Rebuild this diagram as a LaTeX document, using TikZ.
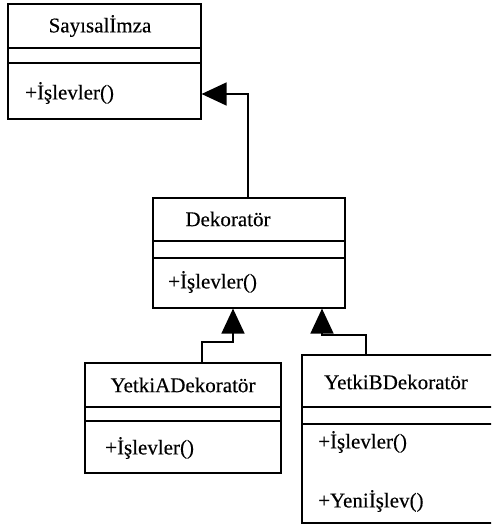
\documentclass[tikz,border=0pt]{standalone}
\usepackage{fontspec}
\setmainfont{Liberation Serif}
\newfontfamily\umlfont{Liberation Serif}[FakeBold=0.3]
\usetikzlibrary{arrows.meta,calc}
\tikzset{
  umlbox/.style={draw=black, line width=1.6pt, rectangle, inner sep=0pt, anchor=north west, fill=white},
  sepline/.style={draw=black, line width=1.6pt},
  title/.style={inner sep=0pt, anchor=center, font=\umlfont\fontsize{21}{25}\selectfont},
  oper/.style={inner sep=0pt, anchor=west, font=\umlfont\fontsize{21}{25}\selectfont},
  inh/.style={draw=black, line width=1.6pt, -{Triangle[length=25pt,width=23pt]}}
}
\begin{document}
\begin{tikzpicture}[x=1pt,y=-1pt]
\useasboundingbox (0,0) rectangle (491,527);
\clip (0,0) rectangle (491,527);
\fill[white] (0,0) rectangle (491,527);

% boxes
\node[umlbox, minimum width=193pt, minimum height=115pt] (si) at (7,3) {};
\node[umlbox, minimum width=192pt, minimum height=110pt] (dek) at (152,197) {};
\node[umlbox, minimum width=196pt, minimum height=110pt] (ya) at (84,362) {};
\node[umlbox, minimum width=205pt, minimum height=168pt] (yb) at (301,354) {};

% compartment separators
\draw[sepline] ($(si.north west)+(0,45)$) -- ($(si.north east)+(0,45)$);
\draw[sepline] ($(si.north west)+(0,60)$) -- ($(si.north east)+(0,60)$);
\draw[sepline] ($(dek.north west)+(0,44)$) -- ($(dek.north east)+(0,44)$);
\draw[sepline] ($(dek.north west)+(0,61)$) -- ($(dek.north east)+(0,61)$);
\draw[sepline] ($(ya.north west)+(0,45)$) -- ($(ya.north east)+(0,45)$);
\draw[sepline] ($(ya.north west)+(0,59)$) -- ($(ya.north east)+(0,59)$);
\draw[sepline] ($(yb.north west)+(0,53)$) -- ($(yb.north east)+(0,53)$);
\draw[sepline] ($(yb.north west)+(0,70)$) -- ($(yb.north east)+(0,70)$);

% texts
\node[title] (sit) at (100,26) {Sayısalİmza};
\node[oper] (sio) at (25,93) {+İşlevler()};
\node[title] (dekt) at (228,219) {Dekoratör};
\node[oper] (deko) at (168,282) {+İşlevler()};
\node[title] (yat) at (183,385) {YetkiADekoratör};
\node[oper] (yao) at (105,448) {+İşlevler()};
\node[title] (ybt) at (396,382) {YetkiBDekoratör};
\node[oper] (ybo1) at (318,442) {+İşlevler()};
\node[oper] (ybo2) at (318,501) {+Yeniİşlev()};

% inheritance connectors
\draw[inh] ($(dek.north west)+(96,0)$) |- ($(si.north east)+(0,91)$);
\draw[inh] ($(ya.north west)+(118,0)$) -- ++(0,-20) -| ($(dek.south west)+(81,0)$);
\draw[inh] ($(yb.north west)+(65,0)$) -- ++(0,-19) -| ($(dek.south west)+(170,0)$);
\end{tikzpicture}
\end{document}
